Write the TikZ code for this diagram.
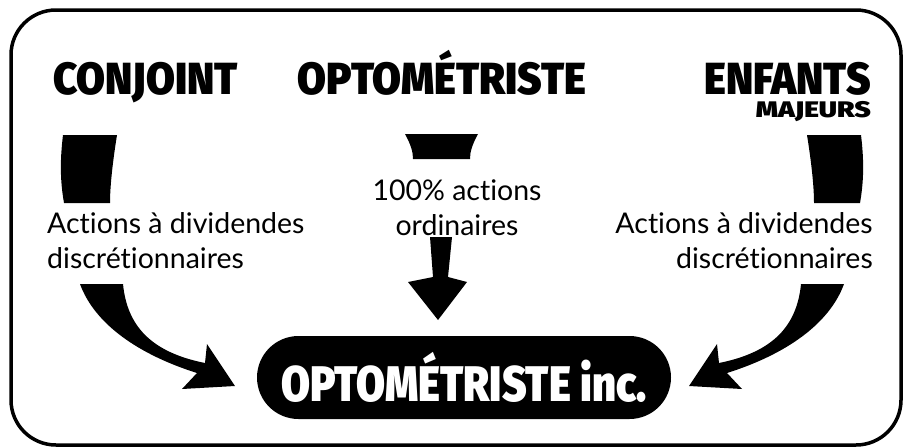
\documentclass[tikz,border=0pt]{standalone}
\usepackage{fontspec}
\setmainfont{Lato}[Ligatures=CommonOff]
\newfontfamily\titrefont{Fira Sans}[UprightFont={* Black}, FakeStretch=0.93]
\newfontfamily\sousfont{Fira Sans}[UprightFont={* Black}, FakeStretch=1.25]
\newfontfamily\societefont{Fira Sans}[UprightFont={* Black}, FakeStretch=0.84]
\usepackage{tikz}
\usetikzlibrary{calc}

\tikzset{
  titre/.style={font=\titrefont\fontsize{45}{45}\selectfont, inner sep=0pt},
  soustitre/.style={font=\sousfont\fontsize{22.5}{22.5}\selectfont, inner sep=0pt},
  texte/.style={font=\fontsize{28.5}{35}\selectfont, inner sep=0pt},
  courbe/.pic={
    \fill (63,135) -- (117,135) .. controls (113,160) and (110,185) .. (110,203)
      -- (64,203) .. controls (60,180) and (60,160) .. (63,135) -- cycle;
    \fill (80,284) -- (123,284) .. controls (127,325) and (150,352) .. (205,363)
      -- (207,344) -- (235,386) -- (182,389) -- (197,373)
      .. controls (140,355) and (95,325) .. (80,284) -- cycle;
  }
}

\begin{document}
\begin{tikzpicture}[x=1pt,y=-1pt]
  \useasboundingbox (0,0) rectangle (904,447);
  \draw[line width=3.5pt, rounded corners=45pt] (11,10) rectangle (901,445);

  % personnes
  \node[titre, anchor=base west] (conjoint) at (53,94) {CONJOINT};
  \node[titre, anchor=base] (opto) at (442,94) {OPTOMÉTRISTE};
  \node[titre, anchor=base east] (enfants) at (871,94) {ENFANTS};
  \node[soustitre, anchor=base east] (majeurs) at (871,117.5) {MAJEURS};

  % textes
  \node[texte, align=left, anchor=north west] (txtA) at (47,208.5)
    {\strut Actions à dividendes\\discrétionnaires};
  \node[texte, align=center, anchor=north] (txtB) at (457,175.5)
    {\strut 100\% actions\\ordinaires};
  \node[texte, align=right, anchor=north east] (txtC) at (873,208.5)
    {\strut Actions à dividendes\\discrétionnaires};

  % flèches
  \pic at (0,0) {courbe};
  \pic[xscale=-1] at (924,0) {courbe};
  \fill (405,134) -- (478,134) .. controls (472,145) and (470,152) .. (470,159)
    -- (413,159) .. controls (413,152) and (411,145) .. (405,134) -- cycle;
  \fill (430,237) -- (452,237) -- (448,277) -- (467,282) -- (438,320)
    -- (408,282) -- (433,277) -- cycle;

  % société
  \node[fill=black, text=white, rounded corners=41.5pt, minimum width=414pt,
    minimum height=83pt, font=\societefont\fontsize{50}{50}\selectfont]
    (societe) at (464,377.5) {OPTOMÉTRISTE inc.};
\end{tikzpicture}
\end{document}
